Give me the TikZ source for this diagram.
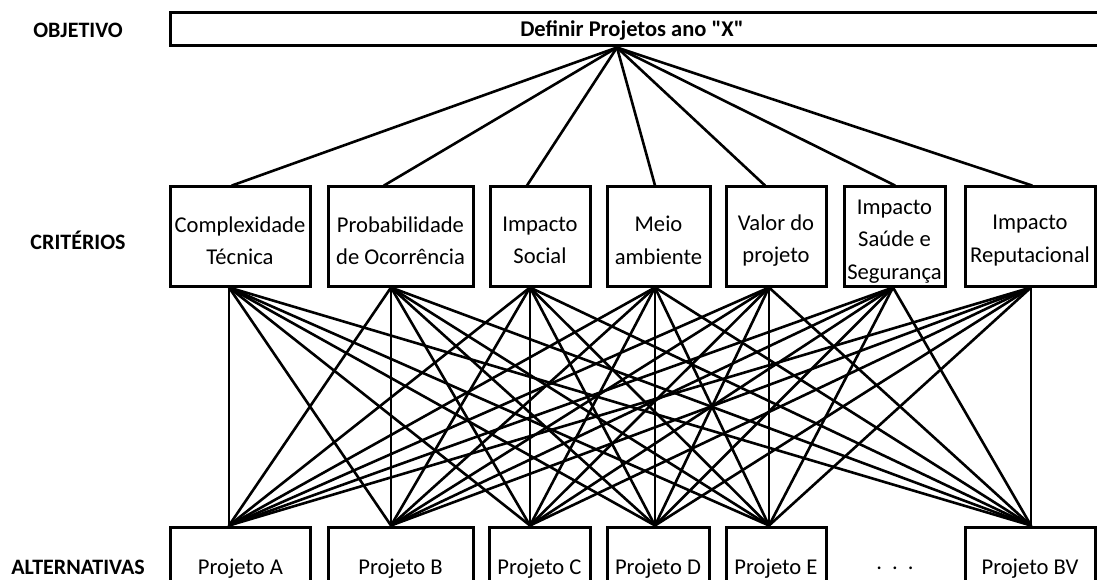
\documentclass[tikz,border=0pt]{standalone}
\usepackage{fontspec}
\setmainfont{Carlito}
% a copy of the family without TeX quote ligatures, for straight quotes
\newfontfamily\plainquotes{Carlito}
\begin{document}
\begin{tikzpicture}[x=1pt,y=-1pt,
  frame/.style={draw, line width=3pt, inner sep=0pt},
  crit/.style={frame, minimum height=99pt},
  alt/.style={frame, minimum height=80pt},
  boxtext/.style={inner sep=0pt, align=center,
                  font=\fontsize{22.6}{32.5}\selectfont},
  lbl/.style={font=\fontsize{22}{25}\selectfont\bfseries},
  link/.style={line width=2.6pt, line cap=round}]
\useasboundingbox (0,0) rectangle (1097,580);
\clip (0,0) rectangle (1097,580);

% level labels
\node[lbl] (lobj)  at (78,30)  {OBJETIVO};
\node[lbl] (lcrit) at (78,240) {CRITÉRIOS};
\node[lbl] (lalt)  at (78,567) {ALTERNATIVAS};

% objective
\node[frame, minimum width=950pt, minimum height=33pt] (obj) at (645,29.5) {};
\node[font=\plainquotes\fontsize{22.5}{25}\selectfont\bfseries] (objt) at (632,30)
  {Definir Projetos ano "X"};
\coordinate (fan) at ([xshift=-28pt]obj.south);

% criteria boxes
\node[crit, minimum width=140pt] (c1) at (240,236.5)   {};
\node[crit, minimum width=145pt] (c2) at (400.5,236.5) {};
\node[crit, minimum width=100pt] (c3) at (540,236.5)   {};
\node[crit, minimum width=103pt] (c4) at (658.5,236.5) {};
\node[crit, minimum width=100pt] (c5) at (776,236.5)   {};
\node[crit, minimum width=101pt] (c6) at (894.5,236.5) {};
\node[crit, minimum width=130pt] (c7) at (1030,236.5)  {};
% criteria texts, set a little below the middle of each box
\node[boxtext] (c1l) at ([yshift=-4pt]c1.center) {Complexidade\\Técnica};
\node[boxtext] (c2l) at ([yshift=-4pt]c2.center) {Probabilidade\\de Ocorrência};
\node[boxtext] (c3l) at ([yshift=-4pt]c3.center) {Impacto\\Social};
\node[boxtext] (c4l) at ([yshift=-4pt]c4.center) {Meio\\ambiente};
\node[boxtext] (c5l) at ([yshift=-4pt]c5.center) {Valor do\\projeto};
\node[boxtext] (c6l) at ([yshift=-5pt]c6.center) {Impacto\\Saúde e\\Segurança};
\node[boxtext] (c7l) at ([yshift=-4pt]c7.center) {Impacto\\Reputacional};

% alternatives
\node[alt, minimum width=140pt] (a1) at (240.5,567) {};
\node[alt, minimum width=145pt] (a2) at (400.5,567) {};
\node[alt, minimum width=101pt] (a3) at (539.5,567) {};
\node[alt, minimum width=102pt] (a4) at (658,567)   {};
\node[alt, minimum width=100pt] (a5) at (776,567)   {};
\node[alt, minimum width=130pt] (a7) at (1030,567)  {};
\node[boxtext] (a1l) at ([yshift=-2pt]a1.center) {Projeto A};
\node[boxtext] (a2l) at ([yshift=-2pt]a2.center) {Projeto B};
\node[boxtext] (a3l) at ([yshift=-2pt]a3.center) {Projeto C};
\node[boxtext] (a4l) at ([yshift=-2pt]a4.center) {Projeto D};
\node[boxtext] (a5l) at ([yshift=-2pt]a5.center) {Projeto E};
\node[boxtext] (a7l) at ([yshift=-2pt]a7.center) {Projeto BV};
\node[boxtext] (dots) at (895,568) {.\hspace{10pt}.\hspace{10pt}.};

% connection points on the boxes
\foreach \n/\t/\b in {1/-8/-11, 2/-16.5/-9.5, 3/-13/-10, 4/-3.5/-3.5,
                      5/-11/-7, 6/0.5/-1.5, 7/2/1} {
  \coordinate (ct\n) at ([xshift=\t pt]c\n.north);
  \coordinate (cb\n) at ([xshift=\b pt]c\n.south);
}
\foreach \n/\s in {1/-11.5, 2/-9.5, 3/-9.5, 4/-3, 5/-7, 7/1} {
  \coordinate (at\n) at ([xshift=\s pt]a\n.north);
}

% objective to criteria
\foreach \i in {1,...,7}
  \draw[link] (fan) -- (ct\i);

% every criterion to every alternative
\foreach \i in {1,...,7}
  \foreach \j in {1,2,3,4,5,7}
    \draw[link] (cb\i) -- (at\j);
\end{tikzpicture}
\end{document}
